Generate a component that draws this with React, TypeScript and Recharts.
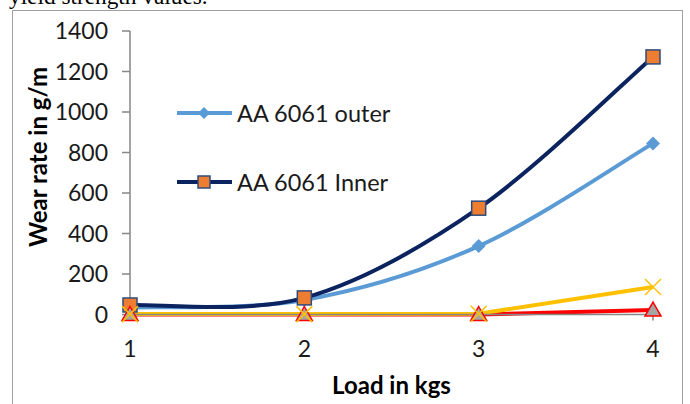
import React from 'react';
import { LineChart, Line, XAxis, YAxis, Legend } from 'recharts';

const loads = ['1', '2', '3', '4'];
const outerWear = [35, 72, 338, 845];
const innerWear = [47, 82, 525, 1272];
const series3Wear = [0, 0, 0, 22];
const series4Wear = [2, 2, 4, 136];
const yTicks = [0, 200, 400, 600, 800, 1000, 1200, 1400];

const data = loads.map((load, i) => ({
  load,
  outer: outerWear[i],
  inner: innerWear[i],
  s3: series3Wear[i],
  s4: series4Wear[i],
}));

const FONT = 'Lato, "Open Sans", sans-serif';
const OUTER_C = '#5B9BD5';
const INNER_C = '#0B2460';
const SQUARE_FILL = '#ED7D31';
const RED_C = '#FF0000';
const YEL_C = '#FFC000';

// Excel-like smoothed line (Catmull-Rom as cubic Beziers)
const excelSmooth: any = (context: any) => {
  let pts: number[][] = [];
  return {
    areaStart() {},
    areaEnd() {},
    lineStart() {
      pts = [];
    },
    point(x: number, y: number) {
      pts.push([+x, +y]);
    },
    lineEnd() {
      if (!pts.length) return;
      context.moveTo(pts[0][0], pts[0][1]);
      for (let i = 0; i < pts.length - 1; i++) {
        const p0 = pts[i - 1] || pts[i];
        const p1 = pts[i];
        const p2 = pts[i + 1];
        const p3 = pts[i + 2] || pts[i + 1];
        const t = 1 / 6;
        context.bezierCurveTo(
          p1[0] + (p2[0] - p0[0]) * t,
          p1[1] + (p2[1] - p0[1]) * t,
          p2[0] - (p3[0] - p1[0]) * t,
          p2[1] - (p3[1] - p1[1]) * t,
          p2[0],
          p2[1]
        );
      }
    },
  };
};

const Diamond = (props: any) => {
  const { cx, cy, index } = props;
  const s = 7;
  return (
    <polygon
      key={`dm-${index}`}
      points={`${cx},${cy - s} ${cx + s},${cy} ${cx},${cy + s} ${cx - s},${cy}`}
      fill={OUTER_C}
    />
  );
};

const Square = (props: any) => {
  const { cx, cy, index } = props;
  const s = 7;
  return (
    <rect
      key={`sq-${index}`}
      x={cx - s}
      y={cy - s}
      width={2 * s}
      height={2 * s}
      fill={SQUARE_FILL}
      stroke="#2F4B7C"
      strokeWidth={1.5}
    />
  );
};

const Triangle = (props: any) => {
  const { cx, cy, index } = props;
  return (
    <polygon
      key={`tr-${index}`}
      points={`${cx},${cy - 8} ${cx + 8},${cy + 6} ${cx - 8},${cy + 6}`}
      fill="#A5A5A5"
      stroke={RED_C}
      strokeWidth={1.5}
    />
  );
};

const Cross = (props: any) => {
  const { cx, cy, index } = props;
  const s = 8;
  return (
    <g key={`x-${index}`}>
      <line x1={cx - s} y1={cy - s} x2={cx + s} y2={cy + s} stroke={YEL_C} strokeWidth={1.5} />
      <line x1={cx - s} y1={cy + s} x2={cx + s} y2={cy - s} stroke={YEL_C} strokeWidth={1.5} />
    </g>
  );
};

const legendItems = [
  { name: 'AA 6061 outer', color: OUTER_C, marker: 'diamond' },
  { name: 'AA 6061 Inner', color: INNER_C, marker: 'square' },
];

const renderLegend = () => (
  <div style={{ position: 'relative', width: 240, height: 100 }}>
    {legendItems.map((it, i) => (
      <div
        key={it.name}
        style={{ position: 'absolute', left: 0, top: i * 69, height: 30, display: 'flex', alignItems: 'center' }}
      >
        <svg width={58} height={30}>
          <line x1={1} y1={15} x2={56} y2={15} stroke={it.color} strokeWidth={4} />
          {it.marker === 'diamond' ? (
            <polygon points="28,9 34,15 28,21 22,15" fill={OUTER_C} />
          ) : (
            <rect x={22} y={9} width={12} height={12} fill={SQUARE_FILL} stroke="#2F4B7C" strokeWidth={1.5} />
          )}
        </svg>
        <span style={{ fontFamily: FONT, fontSize: 23.5, color: '#1a1a1a', marginLeft: 3, whiteSpace: 'nowrap' }}>
          {it.name}
        </span>
      </div>
    ))}
  </div>
);

const YTitle = () => (
  <text
    x={37}
    y={157}
    transform="rotate(-90 37 157)"
    textAnchor="middle"
    dominantBaseline="central"
    fontFamily={FONT}
    fontWeight="bold"
    fontSize={24}
    fill="#000"
  >
    Wear rate in g/m
  </text>
);

export default function App() {
  return (
    <div
      style={{
        position: 'fixed',
        left: 0,
        top: 0,
        width: 690,
        height: 404,
        overflow: 'hidden',
        background: '#fff',
      }}
    >
      <div
        style={{
          position: 'absolute',
          left: 9,
          top: -16,
          fontFamily: '"Liberation Serif", serif',
          fontSize: 23.3,
          lineHeight: '25px',
          color: '#000',
          whiteSpace: 'nowrap',
        }}
      >
        yield strength values.
      </div>
      <div
        style={{
          position: 'absolute',
          left: 12,
          top: 10,
          width: 671,
          height: 420,
          border: '1.5px solid #A0A0A0',
          boxSizing: 'border-box',
        }}
      />
      <div style={{ position: 'absolute', left: 0, top: 0 }}>
        <LineChart width={690} height={404} data={data} margin={{ top: 31, right: 37, bottom: 0, left: 0 }}>
          <XAxis
            dataKey="load"
            height={89.5}
            axisLine={{ stroke: '#868686', strokeWidth: 1.5 }}
            tickLine={{ stroke: '#868686', strokeWidth: 1.5 }}
            tickSize={6}
            tickMargin={20}
            tick={{ fontFamily: FONT, fontSize: 23, fill: '#1a1a1a' }}
            label={{
              value: 'Load in kgs',
              position: 'insideBottom',
              offset: 10,
              fontFamily: FONT,
              fontWeight: 'bold',
              fontSize: 24,
              fill: '#000',
            }}
          />
          <YAxis
            width={130}
            domain={[0, 1400]}
            ticks={yTicks}
            interval={0}
            axisLine={{ stroke: '#868686', strokeWidth: 1.5 }}
            tickLine={{ stroke: '#868686', strokeWidth: 1.5 }}
            tickSize={8}
            tickMargin={14}
            tick={{ fontFamily: FONT, fontSize: 23, fill: '#1a1a1a' }}
            label={<YTitle />}
          />
          <Legend
            content={renderLegend}
            layout="vertical"
            align="center"
            verticalAlign="middle"
            wrapperStyle={{ position: 'absolute', left: 176, top: 98, width: 240 }}
          />
          <Line
            type={excelSmooth}
            dataKey="outer"
            name="AA 6061 outer"
            stroke={OUTER_C}
            strokeWidth={4}
            dot={Diamond}
            activeDot={false}
            isAnimationActive={false}
          />
          <Line
            type={excelSmooth}
            dataKey="inner"
            name="AA 6061 Inner"
            stroke={INNER_C}
            strokeWidth={4}
            dot={Square}
            activeDot={false}
            isAnimationActive={false}
          />
          <Line
            type="linear"
            dataKey="s3"
            name="Series 3"
            stroke={RED_C}
            strokeWidth={4}
            dot={Triangle}
            activeDot={false}
            isAnimationActive={false}
          />
          <Line
            type="linear"
            dataKey="s4"
            name="Series 4"
            stroke={YEL_C}
            strokeWidth={4}
            dot={Cross}
            activeDot={false}
            isAnimationActive={false}
          />
        </LineChart>
      </div>
    </div>
  );
}
